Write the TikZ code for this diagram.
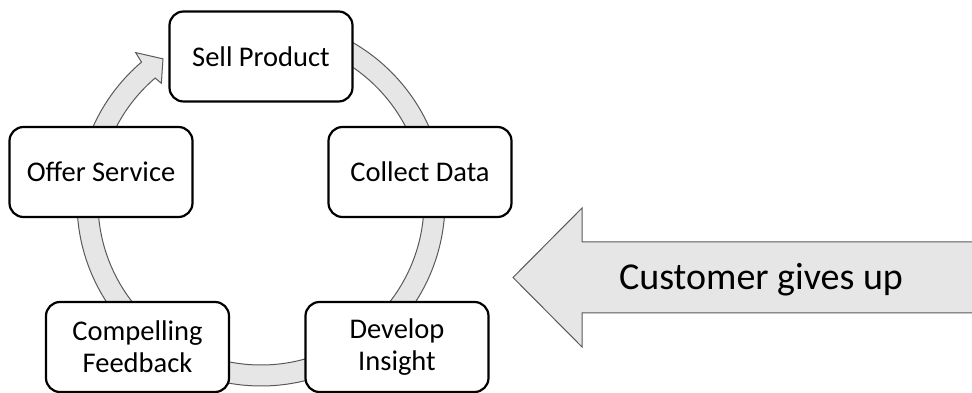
\documentclass[tikz,border=0pt]{standalone}
\usepackage{fontspec}
\setmainfont{Carlito}
\usetikzlibrary{calc}
\definecolor{ringgray}{HTML}{E7E6E6}
\definecolor{edgegray}{HTML}{595959}
\begin{document}
\begin{tikzpicture}[x=1pt,y=1pt,
  stagebox/.style={draw=black, line width=2.2pt, rounded corners=14pt, fill=white,
    minimum width=183pt, minimum height=90pt, align=center, inner sep=0pt,
    font=\fontsize{28.5}{32}\selectfont},
  ringband/.style={fill=ringgray, draw=edgegray, line width=1pt, line join=miter}]
\useasboundingbox (0,0) rectangle (972,393);
\coordinate (C) at (261,191);
% cycle ring with arrow head
\path[ringband] ($(C)+(130.5:184)$) arc[start angle=130.5, end angle=450, radius=184]
  -- ($(C)+(450:163)$) arc[start angle=450, end angle=130.5, radius=163]
  -- ($(C)+(130:155)$) -- ($(C)+(124.4:173.5)$) -- ($(C)+(130:195)$) -- cycle;
% stages
\node[stagebox] (sell) at (261,336.5) {Sell Product};
\node[stagebox] (offer) at (101,221) {Offer Service};
\node[stagebox] (collect) at (420,221) {Collect Data};
\node[stagebox] (feedback) at (137.5,46) {Compelling\\Feedback};
\node[stagebox] (insight) at (397,46) {Develop\\Insight};
% big arrow
\coordinate (tip) at (513,115.5);
\path[ringband] (980,151) -- (582,151) -- (582,185) -- (tip) -- (582,46) -- (582,80) -- (980,80) -- cycle;
\node[anchor=base, font=\fontsize{38}{40}\selectfont, inner sep=0pt] (giveup) at (761,103) {Customer gives up};
\end{tikzpicture}
\end{document}
